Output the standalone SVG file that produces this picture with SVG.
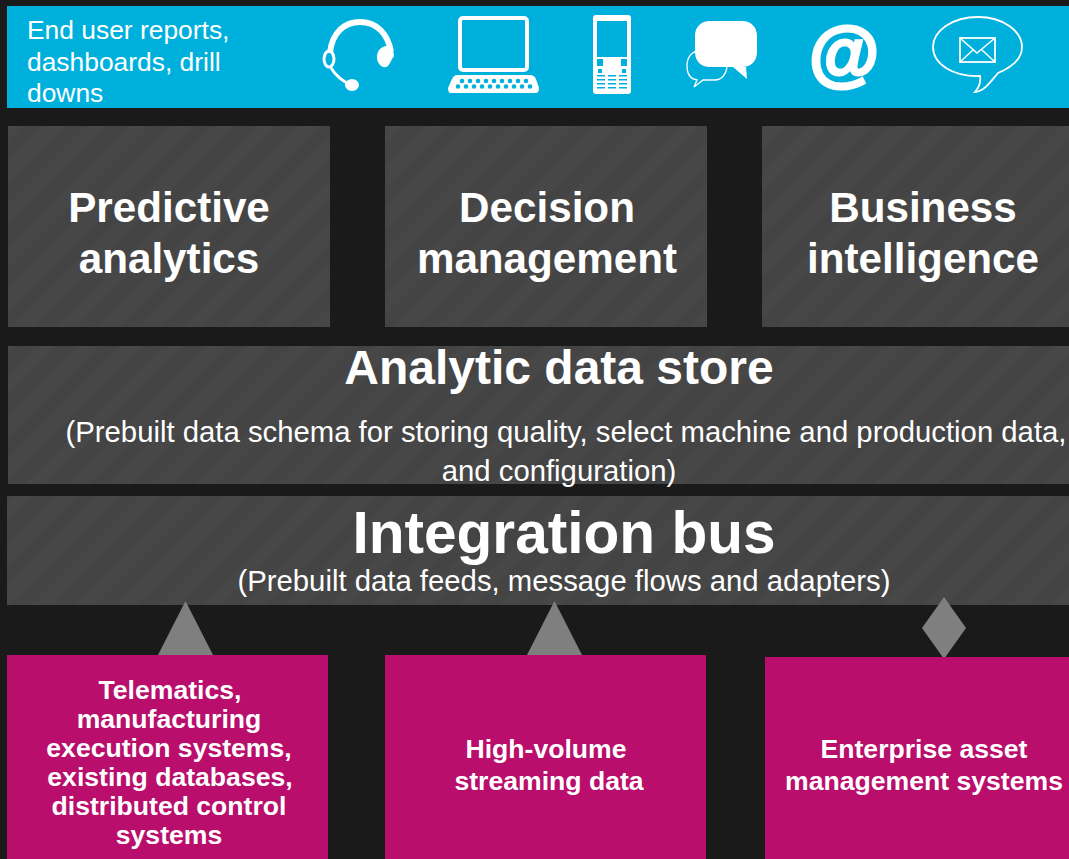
<svg xmlns="http://www.w3.org/2000/svg" width="1069" height="859" viewBox="0 0 1069 859">
<style>
text{font-family:"Liberation Sans",Arial,sans-serif;fill:#fff;text-anchor:middle}
.b{font-weight:bold}
.h{font-size:42.200px;font-weight:bold}
.s{font-size:29.300px}
.p{font-size:26.600px;font-weight:bold}
.t{font-size:26.400px;text-anchor:start}
.pink{fill:#b90e6c}
.arrow{fill:#7f7f7f}
.w{fill:#fff}
.o{fill:none;stroke:#fff}
</style>
<defs>
<pattern id="st" width="30" height="30" patternUnits="userSpaceOnUse" patternTransform="rotate(45)">
<rect width="30" height="30" fill="#444444"/>
<rect width="15" height="30" fill="#474747"/>
</pattern>
</defs>
<rect width="1069" height="859" fill="#1a1a1a"/>
<g id="banner">
<rect x="7" y="6" width="1062" height="102" fill="#00b0dc"/>
<text x="27" y="39" class="t">End user reports,</text>
<text x="27" y="71" class="t">dashboards, drill</text>
<text x="27" y="102" class="t">downs</text>
<g id="icon-headset">
<path class="o" stroke-width="6" d="M330 53C332 32 345 22 360 22C377 22 388 34 391 52"/>
<path class="w" d="M387 46C381 46 377 51 377 57C377 63 381 68 386 67C389 67 391 60 394 56C394 52 391 46 387 46Z"/>
<ellipse class="o" cx="329" cy="59" rx="5" ry="8" stroke-width="3"/>
<path class="o" stroke-width="3" d="M331 68C336 76 342 81 351 85"/>
<ellipse class="w" cx="352" cy="85" rx="7" ry="6"/>
</g>
<g id="icon-laptop">
<rect class="o" x="460" y="18" width="67" height="52" rx="3" stroke-width="4"/>
<path class="w" d="M457 75H530C533 75 535 77 536 79L539 88C539 91 538 93 535 93H451C449 93 448 91 448 88L452 79C453 77 455 75 457 75Z"/>
<g fill="#00b0dc"><circle cx="462" cy="81" r="2.300"/><circle cx="470" cy="81" r="2.300"/><circle cx="478" cy="81" r="2.300"/><circle cx="486" cy="81" r="2.300"/><circle cx="494" cy="81" r="2.300"/><circle cx="502" cy="81" r="2.300"/><circle cx="510" cy="81" r="2.300"/><circle cx="518" cy="81" r="2.300"/><circle cx="526" cy="81" r="2.300"/><circle cx="458" cy="86.500" r="2.300"/><circle cx="466" cy="86.500" r="2.300"/><circle cx="474" cy="86.500" r="2.300"/><circle cx="482" cy="86.500" r="2.300"/><circle cx="490" cy="86.500" r="2.300"/><circle cx="498" cy="86.500" r="2.300"/><circle cx="506" cy="86.500" r="2.300"/><circle cx="514" cy="86.500" r="2.300"/><circle cx="522" cy="86.500" r="2.300"/><circle cx="530" cy="86.500" r="2.300"/></g>
</g>
<g id="icon-phone">
<rect class="w" x="593" y="15" width="38" height="79" rx="3"/>
<g fill="#00b0dc">
<rect x="597" y="21" width="30" height="36"/>
<rect x="597" y="59" width="6" height="7"/><rect x="621" y="59" width="6" height="7"/>
<rect x="598" y="69" width="4" height="4"/><rect x="622" y="69" width="4" height="4"/>
<rect x="597" y="75" width="8" height="1.500"/><rect x="608" y="75" width="8" height="1.500"/><rect x="619" y="75" width="8" height="1.500"/>
<rect x="597" y="79" width="8" height="1.500"/><rect x="608" y="79" width="8" height="1.500"/><rect x="619" y="79" width="8" height="1.500"/>
<rect x="597" y="83" width="8" height="1.500"/><rect x="608" y="83" width="8" height="1.500"/><rect x="619" y="83" width="8" height="1.500"/>
<rect x="597" y="87" width="8" height="1.500"/><rect x="608" y="87" width="8" height="1.500"/><rect x="619" y="87" width="8" height="1.500"/>
</g>
</g>
<g id="icon-chat">
<path class="o" stroke-width="1.300" d="M698 51C691 52 687 58 687 66C687 73 690 79 697 80L694 87L703 80H715C721 80 726 75 727 67"/>
<path class="w" d="M710 21H742C751 21 757 27 757 36V52C757 61 751 67 742 67H746L747 79L733 67H710C701 67 695 61 695 52V36C695 27 701 21 710 21Z"/>
</g>
<text id="icon-at" x="844" y="78" class="b" font-size="72" stroke="#fff" stroke-width="3">@</text>
<g id="icon-mail">
<path class="o" stroke-width="1.800" d="M978 17C1003 17 1022 31 1022 47C1022 60 1010 68 998 73C991 81 985 91 975 92C980 86 981 81 980 76C953 77 933 64 933 47C933 31 952 17 978 17Z"/>
<rect class="o" x="960" y="38" width="35" height="24" stroke-width="1.800"/>
<path class="o" stroke-width="1.500" d="M960 38L977 53L995 38M960 62L973 50M995 62L982 50"/>
</g>
</g>
<g id="predictive-analytics">
<rect x="8" y="126" width="322" height="201" fill="url(#st)"/>
<text x="169" y="222" class="h">Predictive</text>
<text x="169" y="273" class="h">analytics</text>
</g>
<g id="decision-management">
<rect x="385" y="126" width="322" height="201" fill="url(#st)"/>
<text x="547" y="222" class="h">Decision</text>
<text x="547" y="273" class="h">management</text>
</g>
<g id="business-intelligence">
<rect x="762" y="126" width="307" height="201" fill="url(#st)"/>
<text x="923" y="222" class="h">Business</text>
<text x="923" y="273" class="h">intelligence</text>
</g>
<g id="analytic-data-store">
<rect x="8" y="346" width="1061" height="138" fill="url(#st)"/>
<text x="559" y="384" class="b" font-size="48">Analytic data store</text>
<text x="566" y="442" class="s">(Prebuilt data schema for storing quality, select machine and production data,</text>
<text x="559" y="481" class="s">and configuration)</text>
</g>
<g id="integration-bus">
<rect x="7" y="496" width="1062" height="109" fill="url(#st)"/>
<text x="564" y="553" class="b" font-size="58.600">Integration bus</text>
<text x="564" y="591" class="s">(Prebuilt data feeds, message flows and adapters)</text>
</g>
<g id="connectors">
<polygon class="arrow" points="185.500,601 213,655 158,655"/>
<polygon class="arrow" points="554.500,601 582,655 527,655"/>
<polygon class="arrow" points="944,597 966,628 944,659 922,628"/>
</g>
<g id="telematics">
<rect class="pink" x="7" y="655" width="321" height="204"/>
<text x="170" y="699" class="p">Telematics,</text>
<text x="169" y="728" class="p">manufacturing</text>
<text x="169" y="757" class="p">execution systems,</text>
<text x="170" y="786" class="p">existing databases,</text>
<text x="169" y="815" class="p">distributed control</text>
<text x="169" y="844" class="p">systems</text>
</g>
<g id="high-volume">
<rect class="pink" x="385" y="655" width="321" height="204"/>
<text x="546" y="758" class="p">High-volume</text>
<text x="549" y="790" class="p">streaming data</text>
</g>
<g id="enterprise-asset">
<rect class="pink" x="765" y="657" width="304" height="202"/>
<text x="924" y="758" class="p">Enterprise asset</text>
<text x="924" y="790" class="p">management systems</text>
</g>
</svg>
